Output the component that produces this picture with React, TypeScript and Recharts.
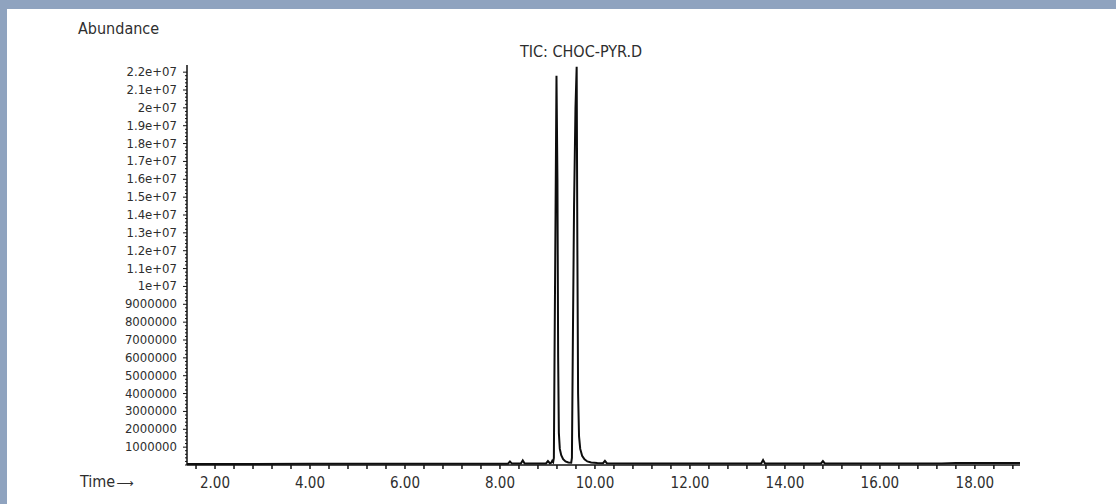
import { Line, LineChart, XAxis, YAxis } from "recharts";

// retention time (min) and total ion current
const times = [
  1.41, 2.5, 4.0, 5.5, 7.0, 7.9, 8.17, 8.21, 8.25, 8.44, 8.48, 8.52, 8.97, 9.01,
  9.05, 9.08, 9.1, 9.12, 9.135, 9.15, 9.17, 9.19, 9.21, 9.225, 9.24, 9.26, 9.29,
  9.33, 9.38, 9.44, 9.5, 9.515, 9.535, 9.56, 9.59, 9.615, 9.63, 9.645, 9.665,
  9.69, 9.73, 9.78, 9.84, 9.92, 10.05, 10.17, 10.21, 10.25, 11.0, 12.0, 13.0,
  13.5, 13.54, 13.58, 14.76, 14.8, 14.84, 16.0, 17.3, 17.6, 18.95,
];
const abundance = [
  60000, 60000, 65000, 65000, 70000, 75000, 75000, 200000, 80000, 80000, 260000,
  85000, 90000, 220000, 100000, 130000, 230000, 160000, 400000, 6500000,
  14000000, 21800000, 16000000, 6000000, 1800000, 900000, 550000, 330000,
  200000, 140000, 130000, 400000, 7000000, 14500000, 20000000, 22300000,
  12000000, 4000000, 1600000, 900000, 520000, 320000, 200000, 140000, 110000,
  100000, 230000, 100000, 90000, 85000, 85000, 85000, 280000, 90000, 85000,
  220000, 85000, 80000, 80000, 110000, 110000,
];

const title = "TIC: CHOC-PYR.D";
const yLabel = "Abundance";
const xLabel = "Time";

const data = times.map((t, i) => ({ t, a: abundance[i] }));

// tick positions: minor every 2e5 on y, every 0.4 min on x
const yTicks: number[] = [];
for (let i = 0; i <= 110; i++) yTicks.push(i * 200000);
const xTicks: number[] = [];
for (let k = 0; k <= 43; k++) xTicks.push(Math.round((1.6 + 0.4 * k) * 10) / 10);

const FONT = "'Liberation Sans Narrow', 'DejaVu Sans Condensed', Roboto, sans-serif";
const INK = "#2e2e2e";

function fmtY(v: number) {
  if (v >= 1e7) return `${Number((v / 1e7).toFixed(1))}e+07`;
  return String(v);
}

function YTick(props: any) {
  const { x, y, payload } = props;
  const v = payload.value as number;
  const major = v > 0 && v % 1000000 === 0;
  return (
    <g>
      <line x1={x - (major ? 4 : 2)} x2={x} y1={y} y2={y} stroke="#111" strokeWidth={1} />
      {major && (
        <text x={x - 10} y={y} dy={4} textAnchor="end" fontSize={13} fill={INK} fontFamily={FONT}>
          {fmtY(v)}
        </text>
      )}
    </g>
  );
}

function XTick(props: any) {
  const { x, y, payload } = props;
  const v = payload.value as number;
  const major = Math.abs(v / 2 - Math.round(v / 2)) < 1e-6;
  return (
    <g>
      <line x1={x} x2={x} y1={y} y2={y + 4} stroke="#111" strokeWidth={1.5} />
      {major && (
        <text x={x} y={y + 18} dy={5} textAnchor="middle" fontSize={15} fill={INK} fontFamily={FONT}>
          {v.toFixed(2)}
        </text>
      )}
    </g>
  );
}

export default function App() {
  return (
    <div style={{ position: "relative", width: 1116, height: 504, background: "#8fa3bf", overflow: "hidden" }}>
      <style>{"body{margin:0}"}</style>
      <div style={{ position: "absolute", left: 7, top: 9, right: 0, bottom: 0, background: "#fff" }} />
      <div style={{ position: "absolute", left: 0, top: 0 }}>
        <LineChart width={1116} height={504} data={data} margin={{ top: 65, right: 96, bottom: 9, left: 127 }}>
          <XAxis
            dataKey="t"
            type="number"
            domain={[1.41, 18.95]}
            ticks={xTicks}
            interval={0}
            allowDataOverflow
            height={30}
            tickSize={0}
            tickMargin={0}
            tickLine={false}
            axisLine={{ stroke: "#111", strokeWidth: 1.5 }}
            tick={<XTick />}
          />
          <YAxis
            type="number"
            domain={[0, 22400000]}
            ticks={yTicks}
            interval={0}
            allowDataOverflow
            width={60}
            tickSize={0}
            tickMargin={0}
            tickLine={false}
            axisLine={{ stroke: "#111", strokeWidth: 1.5 }}
            tick={<YTick />}
          />
          <Line
            type="linear"
            dataKey="a"
            stroke="#0d0d0d"
            strokeWidth={2}
            dot={false}
            isAnimationActive={false}
          />
        </LineChart>
      </div>
      <div style={{ position: "absolute", left: 78, top: 21, fontFamily: FONT, fontSize: 16, color: INK, lineHeight: 1 }}>
        {yLabel}
      </div>
      <div
        style={{ position: "absolute", left: 481, width: 200, top: 44, textAlign: "center", fontFamily: FONT, fontSize: 16, color: INK, lineHeight: 1 }}
      >
        {title}
      </div>
      <div style={{ position: "absolute", left: 80, top: 474, fontFamily: FONT, fontSize: 16, color: INK, lineHeight: 1 }}>
        {xLabel}
        <span style={{ fontFamily: "'DejaVu Sans'", fontSize: 12, marginLeft: 1 }}>⟶</span>
      </div>
    </div>
  );
}
